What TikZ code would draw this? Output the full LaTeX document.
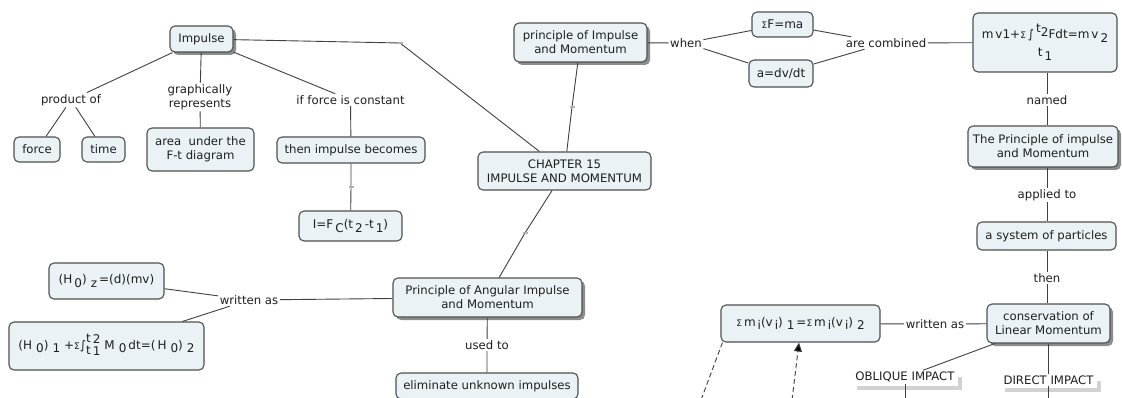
\documentclass[tikz,border=0pt]{standalone}
\usepackage{fontspec}
\setmainfont{DejaVu Sans}
\usetikzlibrary{shadows,arrows.meta}
\definecolor{boxfill}{HTML}{EAF2F5}
\definecolor{boxline}{HTML}{505050}
\definecolor{linkc}{HTML}{404040}
\newcommand{\mylo}[1]{\raisebox{-3.5pt}{#1}}
\newcommand{\gp}{\hspace{4pt}}
\newcommand{\sig}{{\fontsize{9}{10}\selectfont Σ}}
\begin{document}
\begin{tikzpicture}[x=1pt,y=-1pt,
  every node/.style={font=\fontsize{11.7}{14}\selectfont, text=black!88},
  box/.style={draw=boxline, line width=1.1pt, fill=boxfill, rounded corners=5pt, inner sep=2pt, align=center},
  sbox/.style={box, drop shadow={shadow xshift=3pt, shadow yshift=-3pt, fill=black!45, opacity=1}},
  lbl/.style={inner sep=1.5pt, align=center},
  fml/.style={font=\fontsize{12}{14}\selectfont},
  conn/.style={draw=linkc, line width=0.9pt},
  tickm/.style={fill=gray!60, minimum width=5pt, minimum height=1.2pt, inner sep=0pt},
  ghostsh/.style={draw=gray!35, line width=3.5pt},
  dconn/.style={draw=linkc, line width=0.9pt, dash pattern=on 5pt off 3pt}
]
\useasboundingbox (0,0) rectangle (1122,398);
\fill[white] (0,0) rectangle (1122,398);

% ---- left upper cluster
\node[sbox, minimum width=63, minimum height=26] (imp) at (201.5,39) {Impulse};
\node[lbl] (prodof) at (71,100) {product of};
\node[box, minimum width=46, minimum height=25] (force) at (37,149.5) {force};
\node[box, minimum width=43, minimum height=25] (time) at (103.5,149.5) {time};
\node[lbl] (graph) at (200,97) {graphically\\represents};
\node[box, minimum width=107, minimum height=43] (area) at (200.5,149.5) {area\ \ under the\\F-t diagram};
\node[lbl] (iffc) at (350.5,100) {if force is constant};
\node[box, minimum width=148, minimum height=26] (thenimp) at (351,150) {then impulse becomes};
\coordinate (k4) at (351,187);
\node[box, fml, minimum width=103, minimum height=30] (ieq) at (350.5,226) {I=F\,\mylo{C}(t\,\mylo{2}\,-t\,\mylo{1})};

% ---- centre
\node[box, minimum width=173, minimum height=38] (chap) at (564.5,171) {CHAPTER 15\\IMPULSE AND MOMENTUM};
\coordinate (k1) at (400,43);
\node[sbox, minimum width=133, minimum height=39] (pim) at (580.5,42.5) {principle of Impulse\\and Momentum};
\coordinate (k2) at (572,107);
\coordinate (k3) at (525,233);

% ---- top right
\node[lbl] (when) at (686,43) {when};
\node[box, fml, minimum width=61, minimum height=25] (sfma) at (782.5,24.5) {\sig F=ma};
\node[box, fml, minimum width=64, minimum height=27] (adv) at (781,73.5) {a=dv/dt};
\node[lbl] (arecomb) at (886,43) {are combined};
\node[box, fml, minimum width=144, minimum height=59] (form) at (1045,42.5)
  {m\,v1+\sig\,∫\,\raisebox{6pt}{t}\raisebox{2.5pt}{2}Fdt=m\,v\,\mylo{2}\\[4pt]t\,\mylo{1}};

% ---- right column
\node[lbl] (named) at (1047,100) {named};
\node[sbox, minimum width=150, minimum height=41] (tpim) at (1043,146.5) {The Principle of impulse\\and Momentum};
\node[lbl] (applied) at (1047,195) {applied to};
\node[box, minimum width=139, minimum height=28] (sys) at (1046.5,236) {a system of particles};
\node[lbl] (then) at (1047,278) {then};
\node[sbox, minimum width=123, minimum height=39] (cons) at (1048.5,323.5) {conservation of\\Linear Momentum};
\node[lbl] (wrr) at (935,324) {written as};
\node[box, fml, minimum width=159, minimum height=37] (sm) at (800.5,323.5)
  {\sig\,m\,\mylo{i}(v\,\mylo{i})\gp\mylo{1}\,=\sig\,m\,\mylo{i}(v\,\mylo{i})\gp\mylo{2}};
\node[lbl] (obl) at (905,377) {OBLIQUE IMPACT};
\node[lbl] (dir) at (1048.5,380) {DIRECT IMPACT};
\coordinate (oblend) at (905,400);
\coordinate (dirend) at (1048.5,400);
\coordinate (d1) at (701,400);
\coordinate (d2) at (792,400);

% ---- left lower
\node[sbox, minimum width=189, minimum height=39] (ang) at (487.5,297.5) {Principle of Angular Impulse\\and Momentum};
\node[lbl] (usedto) at (487,345) {used to};
\node[box, minimum width=182, minimum height=26] (elim) at (487,386) {eliminate unknown impulses};
\node[lbl] (wrl) at (249,300) {written as};
\node[box, fml, minimum width=115, minimum height=36] (h0z) at (106.5,281) {(H\,\mylo{0})\gp\mylo{z}\,=(d)(mv)};
\def\arraystretch{0.8}
\node[box, fml, minimum width=195, minimum height=48] (h01) at (106.5,346)
  {(H\gp\mylo{0})\gp\mylo{1}\gp+\sig∫\begin{tabular}{@{}l@{}}t\,\raisebox{-1pt}{2}\\t\,\raisebox{-1pt}{1}\end{tabular}\gp M\gp\mylo{0}\,dt=(\,H\gp\mylo{0})\gp\mylo{2}};

% ---- ghost shadows of the impact labels
\draw[ghostsh] ([xshift=3pt,yshift=-4pt]obl.south west) -- ([xshift=4pt,yshift=-4pt]obl.south east) -- ([xshift=4pt,yshift=-7pt]obl.north east);
\draw[ghostsh] ([xshift=3pt,yshift=-4pt]dir.south west) -- ([xshift=4pt,yshift=-4pt]dir.south east) -- ([xshift=4pt,yshift=-7pt]dir.north east);

% ---- connectors
\draw[conn] (imp) -- (prodof);
\draw[conn] (prodof) -- (force);
\draw[conn] (prodof) -- (time);
\draw[conn] (imp) -- (graph);
\draw[conn] (graph) -- (area);
\draw[conn] (imp) -- (iffc);
\draw[conn] (iffc) -- (thenimp);
\draw[conn] (thenimp) -- (k4) -- (ieq);
\draw[conn] (imp) -- (k1) -- (chap);
\draw[conn] (pim) -- (k2) -- (chap);
\draw[conn] (chap) -- (k3) -- (ang);
\draw[conn] (ang) -- (wrl);
\draw[conn] (wrl) -- (h0z);
\draw[conn] (wrl) -- (h01);
\draw[conn] (ang) -- (usedto) -- (elim);
\draw[conn] (pim) -- (when);
\draw[conn] (when) -- (sfma);
\draw[conn] (when) -- (adv);
\draw[conn] (sfma) -- (arecomb);
\draw[conn] (adv) -- (arecomb);
\draw[conn] (arecomb) -- (form);
\draw[conn] (form.south -| named) -- (named) -- (tpim.north -| named);
\draw[conn] (tpim.south -| applied) -- (applied) -- (sys.north -| applied);
\draw[conn] (sys.south -| then) -- (then) -- (cons.north -| then);
\draw[conn] (cons) -- (wrr) -- (sm);
\draw[conn] (cons) -- (obl);
\draw[conn] (cons.south -| dir) -- (dir);
\draw[conn] (obl) -- (oblend);
\draw[conn] (dir) -- (dirend);
\draw[dconn] ([xshift=2pt]sm.south west) -- (d1);
\draw[dconn, -{Triangle[length=9pt,width=8pt,fill=black]}] (d2) -- ([xshift=-1.5pt]sm.south);

% ---- empty link marks
\foreach \k in {k1,k2,k3,k4} \node[tickm] at (\k) {};
\end{tikzpicture}
\end{document}
